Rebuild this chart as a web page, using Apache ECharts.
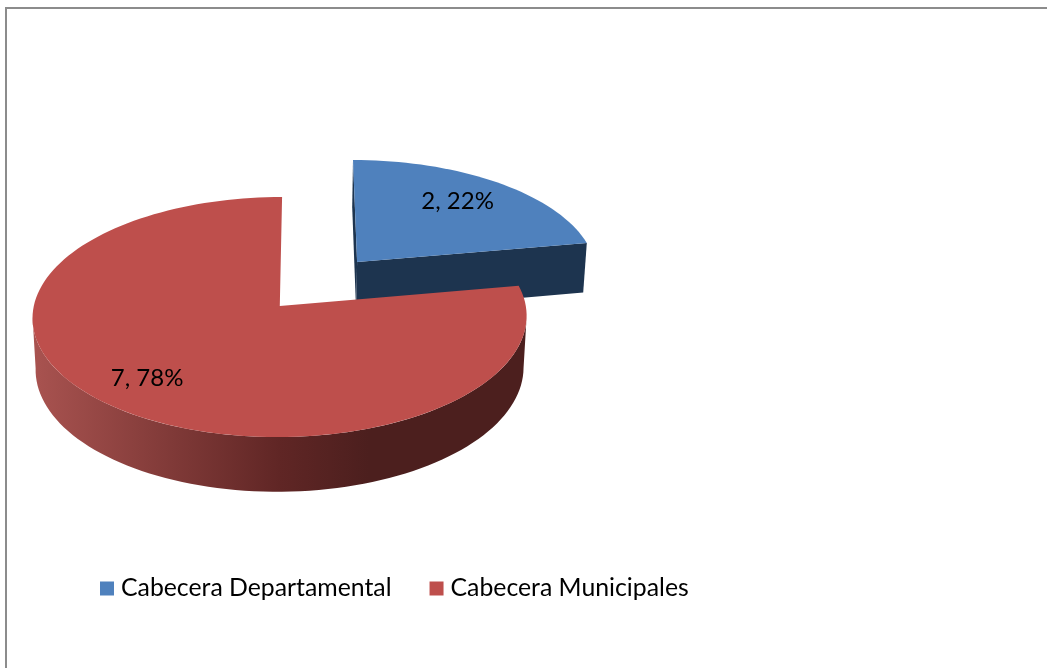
<!DOCTYPE html>
<html>
<head>
<meta charset="utf-8">
<style>html,body{margin:0;padding:0;background:#fff}#chart{width:1047px;height:668px}</style>
<script src="https://cdn.jsdelivr.net/npm/echarts@6/dist/echarts.min.js"></script>
</head>
<body>
<div id="chart"></div>
<script>
const categories = ['Cabecera Departamental', 'Cabecera Municipales'];
const values = [2, 7];
const topColors = ['#4F81BD', '#BE4F4C'];
const sideColors = [
  '#1D344F',
  [[0, '#A95350'], [0.5, '#602625'], [0.68, '#4C1F1E'], [1, '#4C1F1E']]
];
const explodes = [0.5, 0];
const labelFont = '24px Lato, Carlito, sans-serif';

const total = values.reduce((a, b) => a + b, 0);

// Tilted-disc projection: x,y on the unit disc, z from top rim (0) to base rim (1).
const view = { cx: 279.8, cy: 306, rx: 246, ry: 119, depth: 52, persp: 0.092, sink: -0.0125, shear: -2.5 };
function project(x, y, z) {
  const w = 1 - view.persp * y - view.sink * z;
  return [
    view.cx + (view.rx * x + view.shear * y) / w,
    view.cy + (view.ry * y + view.depth * z) / w
  ];
}
const RAD = Math.PI / 180;
// Only this stretch of the outer wall faces the viewer (degrees clockwise from the top).
const FRONT_ARC = [95, 265];

function renderSlice(params, api) {
  const idx = params.seriesIndex;
  const value = api.value(0);
  const before = values.slice(0, idx).reduce((a, b) => a + b, 0);
  const a0 = before / total * 360;
  const a1 = (before + value) / total * 360;
  const mid = (a0 + a1) / 2 * RAD;
  const ox = Math.sin(mid) * explodes[idx];
  const oy = -Math.cos(mid) * explodes[idx];
  const at = (deg, r, z) => project(ox + Math.sin(deg * RAD) * r, oy - Math.cos(deg * RAD) * r, z);
  const arc = (from, to, z) => {
    const pts = [];
    const steps = Math.ceil((to - from) / 2);
    for (let i = 0; i <= steps; i++) pts.push(at(from + (to - from) * i / steps, 1, z));
    return pts;
  };
  const poly = (points, fill) => ({ type: 'polygon', shape: { points }, style: { fill } });

  const children = [];
  // The radial cut faces only show on a slice pulled away from the pie.
  if (explodes[idx] > 0) {
    [a0, a1].forEach(deg => children.push(
      poly([at(deg, 0, 0), at(deg, 1, 0), at(deg, 1, 1), at(deg, 0, 1)], sideColors[idx])
    ));
  }
  const wallFrom = Math.max(a0, FRONT_ARC[0]);
  const wallTo = Math.min(a1, FRONT_ARC[1]);
  if (wallTo > wallFrom) {
    const fill = Array.isArray(sideColors[idx])
      ? new echarts.graphic.LinearGradient(0, 0, 1, 0,
          sideColors[idx].map(s => ({ offset: s[0], color: s[1] })))
      : sideColors[idx];
    children.push(poly(arc(wallFrom, wallTo, 0).concat(arc(wallFrom, wallTo, 1).reverse()), fill));
  }
  children.push(poly([at(0, 0, 0)].concat(arc(a0, a1, 0)), topColors[idx]));

  const labelPos = at((a0 + a1) / 2, 0.75, 0);
  children.push({
    type: 'text',
    style: {
      x: labelPos[0] - 6, y: labelPos[1],
      text: value + ', ' + Math.round(value / total * 100) + '%',
      font: labelFont, fill: '#000',
      align: 'center', verticalAlign: 'middle'
    }
  });
  return { type: 'group', children };
}

const chart = echarts.init(document.getElementById('chart'), null, { renderer: 'canvas' });
chart.setOption({
  animation: false,
  backgroundColor: '#fff',
  graphic: [{
    type: 'polyline',
    shape: { points: [[6, 668], [6, 8], [1047, 8]] },
    style: { stroke: '#8C8C8C', lineWidth: 2, fill: null },
    silent: true
  }],
  legend: {
    left: 95, top: 571,
    icon: 'rect', itemWidth: 14, itemHeight: 14, itemGap: 38,
    selectedMode: false,
    data: categories,
    textStyle: { fontFamily: 'Lato, Carlito, sans-serif', fontSize: 24.8, color: '#000', padding: [0, 0, 0, 2] }
  },
  series: categories.map((name, i) => ({
    type: 'custom',
    name,
    coordinateSystem: 'none',
    clip: false,
    z: 2 + i,
    itemStyle: { color: topColors[i] },
    data: [[values[i]]],
    renderItem: renderSlice
  }))
});
</script>
</body>
</html>
